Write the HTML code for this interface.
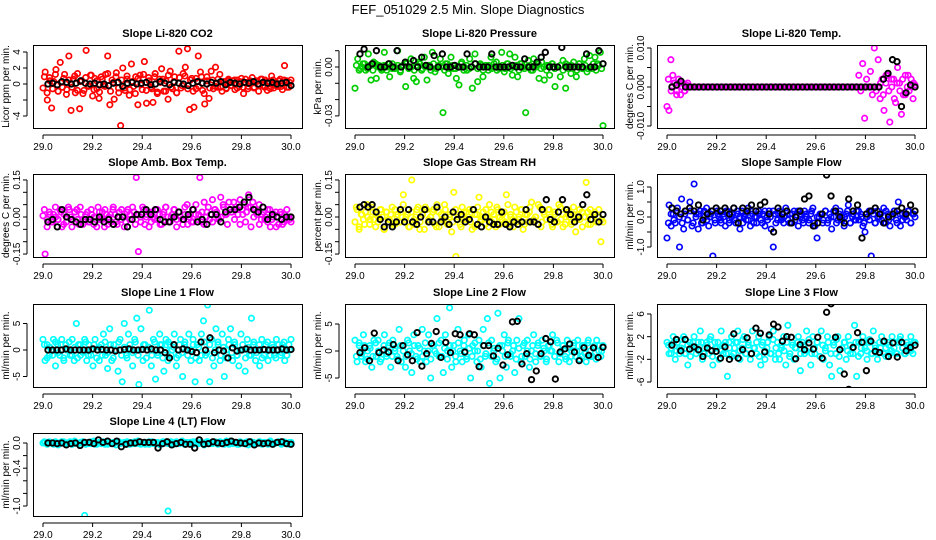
<!DOCTYPE html>
<html><head><meta charset="utf-8"><style>
html,body{margin:0;padding:0;background:#fff;}
svg{display:block;font-family:"Liberation Sans",sans-serif;}
</style></head><body>
<svg id="chart" width="936" height="540" viewBox="0 0 936 540" xmlns="http://www.w3.org/2000/svg">
<rect width="936" height="540" fill="#fff"/>
<text x="468" y="14" text-anchor="middle" font-size="13">FEF_051029  2.5 Min. Slope Diagnostics</text>
</svg>
<script>
const xTicks=[29.0,29.2,29.4,29.6,29.8,30.0];
const xTickLabels=["29.0","29.2","29.4","29.6","29.8","30.0"];
// CO2 (ppm/min)
const co2Vals=[-0.5,1.5,-2,0.8,-3,0.3,1.8,-0.9,2.7,-0.4,1.2,-0.7,3.5,-3.3,0.6,-1.1,1.3,-3.1,0.4,-0.8,4.2,-0.3,1.1,-1.5,0.7,-0.6,-1.8,0.9,-0.2,1.2,3.5,-2.6,0.5,-1.9,1.4,-0.5,-5.2,2,-0.8,0.6,-1.4,2.5,-0.3,0.9,-2.6,1.1,-0.7,2.8,-2.4,0.8,-0.4,-2.3,1.3,-1.2,0.6,1.9,-0.9,0.4,-1.9,1.6,-0.6,0.9,-1.1,4.1,-0.5,1.3,2.1,4.4,-3.2,0.7,-2.9,-0.6,3.5,1.5,-0.8,-2.5,0.9,-1.8,1.6,-0.6,2.1,-0.4,1.2,-0.9,0.3,-0.5,0.6,-0.2,0.4,-0.7,0.5,-0.3,0.7,-1.2,0.2,-0.6,0.4,0.8,-0.4,0.3,-0.9,0.6,-0.2,0.5,-0.8,0.3,1,-0.5,0.2,-0.3,0.6,-0.7,2.3,0.4,-0.4,0.5];
const co2Band=[0.9,-1.1,0.4,-0.6,1.2,-0.9,0.2,0.7,-1.3,0.5,-0.4,1,-0.8,0.3,-1.2,0.8,-0.2,1.1,-0.7,0.4,-1,0.6,-0.3,1.3,-0.9,0.2,0.9,-1.1,0.5,-0.5,1,-0.7,0.3,-1.2,0.7,-0.1,1.2,-0.8,0.4,-0.6,0.9,-1,0.2,0.6,-0.9,1.1,-0.4,0.3,-1.1,0.8,-0.2,1,-0.6,0.5,-0.9,0.7,-0.3,0.9,-1.2,0.4,-0.5,0.5,-0.3,0.6,-0.4,0.2,-0.6,0.4,-0.2,0.5,-0.5,0.3,-0.4,0.6,-0.3,0.2,-0.5,0.4,-0.2,0.6,-0.4,0.3,-0.6,0.5,-0.2,0.4,-0.3,0.5,-0.4,0.2];
const co2Blk=[0,0.1,-0.1,0.3,0.2,0,0.1,0.4,0.1,0,0.1,-0.1,0,-0.2,0.1,0.2,-0.3,0.1,0.2,0,0.1,0.2,-0.1,0,0.3,0.1,-0.1,0.2,0.1,0,-0.2,0.1,0.3,0.1,0,0.2,0.1,0.3,-0.1,0.2,0.1,0,0.2,0.1,0.3,0,0.2,0.1,0.2,0,0.1,0.2,-0.2];
const co2Ticks=[-4,-2,0,2,4];const co2Labels=["-4","","0","2","4"];
// Pressure (x0.001 kPa/min)
const presVals=[-13,5,-1,2,-2,8,-8,3,-7,1,-2,9,0,-6,2,-1,10,-3,1,-12,0,5,-7,-9,3,-2,6,-8,1,9,-3,0,5,-28,2,-4,6,-1,-7,-11,3,0,-2,5,-13,8,-9,2,-6,1,-2,6,0,3,-1,9,-3,2,8,-5,6,-6,2,0,-28,4,-2,5,0,-7,3,-8,1,-5,2,-12,0,-6,4,-13,1,-4,3,-6,2,0,5,-3,7,-1,6,2,9,-36];
const presBand=[1,-2,0,2,-1,1,-2,2,0,-1,1,-2,2,-1,0,1,-2,1,2,-1,0,-2,1,2,-1,0,1,-2,2,-1,1,0,-2,2,-1,1,-1,0,2,-2,1,-1,0,2,-1,1,-2,0,1,-1,2,-2,0,1,-1,2,-1,0,1,-2,2,-1,0,1,-2,1,2,-1,0,-2,1,2,-1,0,1,-2,2,-1,1,0,-2,2,-1,1,-1,0,2,-2,1,-1];
const presBlk=[8,11,0,2,10,0,0,2,0,10,0,3,0,4,0,6,1,0,7,0,8,0,0,1,0,0,8,0,2,0,0,0,8,0,0,0,0,1,0,0,5,0,0,3,6,9,0,0,0,12,0,0,0,0,0,8,0,0,10,2];
const presTicks=[10,0,-10,-20,-30];const presLabels=["","0.00","","","-0.03"];
// Li-820 temp (x0.001 C/min)
const tempVals=[-5,-6,7,3,1,-1,2,-2,1,-1,0.5,0,0,0,0,0,0,0,0,0,0,0,0,0,0,0,0,0,0,0,0,0,0,0,0,0,0,0,0,0,0,0,0,0,0,0,0,0,0,0,0,0,0,0,0,0,0,0,0,0,0,0,0,0,0,0,0,0,0,0,0,0,0,0,0,0,0,0,0,0,0,0,0,0,0,0,0,0,0,0,0,0,0,0,0,0,0,0,0,3,-1,6,-8,2,0,4,-2,10,-1,7,-3,2,-6,1,3,-9,0,2,-4,5,1,-7,-2,3,0,-1,2,-3,0.5];
const tempBand=[2,-1,1,-2,1,0,-1,1,0,0,0,0,0,0,0,0,0,0,0,0,0,0,0,0,0,0,0,0,0,0,0,0,0,0,0,0,0,0,0,0,0,0,0,0,0,0,0,0,0,0,0,0,0,0,0,0,0,0,0,0,0,0,0,0,0,0,0,0,0,0,0,0,0,0,0,0,0,1,-2,3,-1,2,-3,1,-1,2,-2,3,0,1];
const tempBlk=[0,0.5,1.5,0,0,0,0,0,0,0,0,0,0,0,0,0,0,0,0,0,0,0,0,0,0,0,0,0,0,0,0,0,0,0,0,0,0,0,0,0,0,0,0,0,0,0,0,2,3.5,7,6.5,-5,-1.5,0.5,0];
const tempTicks=[10,5,0,-5,-10];const tempLabels=["0.010","","0.000","","-0.010"];
// Amb box temp (x0.01)
const ambVals=[0.5,-15,-1,2,-2,1,0,-1,3,-4,1,-2,4,0,-1,2,3,-3,1,-1,0,2,-2,1,-3,0,4,-1,2,-4,1,0,-2,3,1,-3,2,-1,0,-2,3,1,-1,2,16,-14,0,4,-3,1,2,-2,0,3,-1,1,-3,2,4,0,-2,1,3,-1,2,0,-3,1,5,0,-2,3,1,-1,16,2,-3,0,4,1,-2,3,2,-1,0,5,1,-3,3,2,6,4,1,7,3,5,2,9,4,6,3,1,5,-1,2,0,-2,3,-1,1,-4,0,2,-3,1,-1,0,-2];
const ambBand=[3,-4,1,-2,4,-1,2,-3,0,3,-4,2,-1,4,-3,1,-2,3,0,-4,2,-1,3,-3,1,4,-2,0,3,-4,2,-1,4,-3,1,-2,3,0,-4,2,-1,3,-3,1,4,-2,0,3,-4,2,-1,4,-3,1,-2,5,1,-2,6,2,-1,7,3,0,8,4,1,6,2,-1,3,-3,1,-2,4,-4,0,2,-3,1,-1,3,-4,0,2,-3,1,-2,3,-1];
const ambBlk=[-2,-1,-4,3,0,-1,-2,-3,-1,-1,-2,0,-2,-1,-3,0,0,-4,-1,1,1,3,1,3,-1,-2,-2,0,2,-1,1,3,-2,-1,-3,1,1,-2,2,3,3,4,6,8,3,2,4,-1,1,0,-1,0,0];
const ambTicks=[15,10,5,0,-5,-10,-15];const ambLabels=["0.15","","","0.00","","","-0.15"];
// Gas stream RH (x0.01)
const rhVals=[-2,3,-4,1,-1,2,0,-3,4,-1,1,-2,3,0,-5,2,-1,1,-3,3,0,-2,2,9,-1,1,-4,15,-3,0,4,-2,1,-5,3,-1,0,2,-3,5,-4,1,-1,3,-2,0,-6,10,-16,1,-3,4,-1,2,0,-2,3,-4,1,8,-1,2,-3,0,5,-2,1,-4,3,0,-1,2,9,-3,1,-1,4,-2,0,3,-5,1,-2,2,6,-1,0,-3,4,-2,1,-1,3,0,-4,2,-2,5,-1,1,-3,3,0,-2,4,-6,1,-1,2,0,14,-3,3,-1,2,-2,0,-10,-2];
const rhBand=[4,-5,1,-3,5,-1,2,-4,0,3,-5,2,-1,4,-3,1,-2,5,0,-4,2,-1,3,-5,1,4,-2,0,3,-4,2,-1,5,-3,1,-2,3,0,-4,2,-1,3,-5,1,4,-2,0,3,-4,2,-1,4,-3,1,-2,5,0,-4,2,-1,3,-3,1,4,-2,0,5,-4,2,-1,3,-3,1,-2,4,-4,0,2,-3,1,-1,3,-4,0,2,-3,1,-2,3,-1];
const rhBlk=[4,5,4,5,2,-1,-4,-2,-4,-2,3,-2,3,-2,-3,0,3,-2,-2,4,-2,0,-3,2,-1,1,-2,-1,3,-3,-4,0,-2,-3,-3,2,-3,-4,-2,-3,-2,3,-2,-2,-3,3,7,-1,-2,2,7,3,1,-2,0,5,9,-1,1,-2,1];
// Sample flow (x0.1)
const sampVals=[-7,4,-3,1,-2,3,-10,6,-4,2,-1,5,-3,11,1,-4,2,-2,0,3,-3,1,-13,-1,2,0,-2,1,-3,2,-1,0,3,-2,1,-4,2,0,-1,3,-3,1,0,-2,2,-1,1,-3,0,2,-4,-10,1,-1,2,0,-2,3,-1,1,-2,2,0,-3,1,-1,2,0,-2,1,3,-3,-7,0,1,-1,2,-2,1,-4,0,3,-1,2,0,-3,1,4,-2,0,-1,2,-1,1,-3,-5,0,2,-13,1,-2,2,0,-1,3,-2,1,-3,0,2,-1,5,-3,1,0,-1,2,-2,1,0];
const sampBand=[-2,1,-1,2,0,-2,1,-1,2,-2,0,1,-2,2,-1,0,2,-2,1,-1,0,2,-2,1,-1,2,0,-2,1,-1,2,-2,0,1,-2,2,-1,0,2,-2,1,-1,0,2,-2,1,-1,2,0,-2,1,-1,2,-2,0,1,-2,2,-1,0,2,-2,1,-1,0,2,-2,1,-1,2,0,-2,1,-1,2,-2,0,1,-2,2,-1,0,2,-2,1,-1,0,2,-2,1];
const sampBlk=[3,2,1,2,3,2,4,-1,1,2,3,2,3,1,3,-2,3,2,4,2,4,5,1,-5,3,1,2,-2,0,2,6,7,-3,-2,1,14,7,2,0,-2,6,2,4,-7,1,2,3,1,-2,0,1,2,3,1,4,2];
const sampTicks=[10,5,0,-5,-10];const sampLabels=["1.0","","0.0","","-1.0"];
// Line 1 flow
const l1Vals=[2,-2,1,-1,0,2,-3,1,-1,2,-2,1,0,-1,2,-2,5,1,-1,0,2,-2,1,-1,-3,2,0,-2,1,3,-1,-3.5,4,-2,1,0,-4,2,-6,5,-1,3,0,-3,2,6,-6.5,4,-2,1,0,7.5,-3,2,-5.5,-1,3,1,-4,2,-2,1,0,3,-3,-1,2,-5,1,0,3,-2,2,-6,1,-2,3,5.5,-1,8.5,-6,2,-3,4,1,-2,3,-5,0,2,4,-2,1,-1,-3,3,0,-4,2,-1,6,1,-2,0,-3,2,-1,1,-2,0,1,-1,2,0,-1,1,-2,0,1,2];
const l1Band=[1,-1.5,0.5,-1,1.5,-0.5,1,-1.5,0,1.5,-1,0.5,-1.5,1,-0.5,1.5,-1,0,1,-1.5,0.5,-1,1.5,-0.5,1,-1.5,0,1.5,-1,0.5,-1.5,1,-0.5,1.5,-1,0,1,-1.5,0.5,-1,1.5,-0.5,1,-1.5,0,1.5,-1,0.5,-1.5,1,-0.5,1.5,-1,0,1,-1.5,0.5,-1,1.5,-0.5,1,-1.5,0,1.5,-1,0.5,-1.5,1,-0.5,1.5,-1,0,1,-1.5,0.5,-1,1.5,-0.5,1,-1.5,0,1.5,-1,0.5,-1.5,1,-0.5,1.5,-1,0];
const l1Blk=[0,0,0,0,0.2,0,0,0,0,0,0.2,0,0.1,0,0,-0.2,0,0.1,0.2,0,0,0.1,0,0.2,0,0,-0.5,-1.5,1,0,0.2,0,-0.3,-0.5,1.5,0,2.3,-0.5,0,-0.2,-1.5,0.4,-0.2,0,0.2,0,0,0,0.1,0,0,0,0.2,0,0.1];
const l1Ticks=[5,0,-5];const l1Labels=["5","0","-5"];
// Line 2 flow
const l2Vals=[2,-2,1,-1,3,-2,0,1,-3,2,-1,2,-2,0,3,-1,1,-3,2,0,-1,4,-2,1,-3,2,0,-4,3,-1,1,-2,4,0,-2,3,-5,1,0,6,-1,2,-4,3,0,8,-3,1,-2,4,0,-2,2,-1,3,-5,1,0,-2,2,-3,4,-1,6,-6,2,0,-2,7,-5,1,3,-3,2,-1,0,-4,2,6,-2,1,-1,2,-3,0,3,-2,1,-1,2,0,-2,1,0,3,-1,2,-2,0,1,-1,2,-2,0,1,-1,2,0,-1,1,-2,2,0,-1,1,2,0,-1,1];
const l2Band=[-1,1.5,-0.5,1,-1.5,0.5,-1,1.5,0,-1.5,1,-0.5,1.5,-1,0.5,-1.5,1,0,-1,1.5,-0.5,1,-1.5,0.5,-1,1.5,0,-1.5,1,-0.5,1.5,-1,0.5,-1.5,1,0,-1,1.5,-0.5,1,-1.5,0.5,-1,1.5,0,-1.5,1,-0.5,1.5,-1,0.5,-1.5,1,0,-1,1.5,-0.5,1,-1.5,0.5,-1,1.5,0,-1.5,1,-0.5,1.5,-1,0.5,-1.5,1,0,-1,1.5,-0.5,1,-1.5,0.5,-1,1.5,0,-1.5,1,-0.5,1.5,-1,0.5,-1.5,1,0];
const l2Blk=[-0.3,0.6,-1.8,3.3,-0.3,0.2,-0.2,1.2,-1.8,1,-0.7,-1.8,3.4,-2.8,-0.5,1.4,3.6,-1.2,1.6,-0.3,3.2,3,-0.2,3.2,3,-2.9,1,1,-0.9,0.5,-2.6,-0.7,5.4,5.5,-2.4,-0.5,-5.3,-3.7,-0.5,2.3,1.7,-5.2,-0.2,0.4,1.3,-0.2,-1.8,0.6,-0.8,0.6,-1.2,0.7];
// Line 3 flow
const l3Vals=[1,-1,0,2,-2,1,-1,0,2,-1,-3,1,0,2,-1,1,3,-2,0,1,-1,2,-3,1,0,-2,3,-1,1,-5,0,2,-1,1,3,-2,0,2,-1,1,-2,3,0,-1,2,-3,1,-2,0,2,-1,3,-2,1,-2,0,2,-3,4,-1,1,-2,0,2,-4,1,-1,3,0,-3,2,-1,1,-8,3,-2,0,2,-3,-5,1,-1,2,-4,0,1,-2,2,-1,0,4,-5,1,-1,2,0,-2,1,-1,3,0,-2,1,2,-1,0,1,-1,2,0,-1,1,2,0,-1,1,0,2,-1,1];
const l3Band=[0.5,-1,1,-0.5,0,1.5,-1,0.5,-1.5,1,0,-0.5,1,-1,0.5,1.5,-1.5,0,1,-0.5,0.5,-1,1,-1.5,0,1,-0.5,1.5,-1,0.5,-1,0,1,-1.5,0.5,-0.5,1,-1,1.5,0,-1,0.5,-0.5,1,-1.5,0.5,0,1,-1,0.5,-0.5,1.5,-1,0,1,-1.5,0.5,-0.5,1,-1,0.5,1.5,-1.5,0,1,-0.5,0.5,-1,1,-1.5,0,1,-0.5,1.5,-1,0.5,-1,0,1,-1.5,0.5,-0.5,1,-1,1.5,0,-1,0.5,-0.5,1];
const l3Blk=[0.5,1.5,-0.5,1.5,-0.2,0.2,-0.3,-1.5,0,-0.5,-0.6,-1.8,0.2,-2,2.5,-1.8,-0.3,1.8,-1,3.5,2.6,-0.7,2.3,4.2,3.7,1.2,2,1.9,-1.9,0.6,-0.3,0.9,-0.2,1.9,-1.8,6.3,7.8,1.9,-0.3,-4.6,-7.3,0.1,2.7,1,-4,1.2,-0.6,-0.8,1.2,-1.5,0.9,-1.6,1,-0.5,0.1,0.5];
const l3Ticks=[6,2,-2,-6];const l3Labels=["6","2","-2","-6"];
// Line 4 flow (x0.01)
const l4Vals=[0,1,-1,2,0,-2,1,0,-1,2,1,-1,0,2,-2,1,0,-1,1,2,-115,0,-1,2,1,-2,0,1,-1,2,0,-2,1,0,-1,1,2,-1,0,1,-2,0,1,-1,2,0,-1,1,0,-2,1,2,0,-1,1,0,-2,1,0,2,-108,-1,1,0,2,-1,0,1,-2,1,0,-1,2,1,-1,0,1,-2,0,2,1,-1,0,1,-1,2,0,-2,1,0,3,-1,1,0,-2,1,0,-1,2,0,-122,1,-1,0,2,-1,1,0,-2,1,0,-1,1,2,0,-1,1,0,-2,1];
const l4Band=[2,-2,1,-1,2,-3,0,2,-1,1,-2,3,-1,0,2,-2,1,-1,3,-2,0,1,-2,2,-1,1,-3,2,0,-1,2,-2,1,-1,3,-2,0,1,-2,2,-1,1,-3,2,0,-1,2,-2,1,-1,3,-2,0,1,-2,2,-1,1,-3,2,0,-1,2,-2,1,-1,3,-2,0,1,-2,2,-1,1,-3,2,0,-1,2,-2,1,-1,3,-2,0,1,-2,2,-1,1];
const l4Blk=[0,0,-1,0,-3,-1,0,-4,1,1,-1,5,1,3,-1,3,-6,-2,0,0,2,1,1,1,-8,-1,2,-3,-1,1,-2,-2,-8,5,-2,-1,2,0,-1,1,3,1,0,-1,2,-3,0,-1,0,-2,1,2,-1,-2];
const l4Ticks=[0,-20,-40,-60,-80,-100];const l4Labels=["0.0","","-0.4","","","-1.0"];

const NS="http://www.w3.org/2000/svg";
const svg=document.getElementById('chart');
function mk(tag,attrs,parent){const e=document.createElementNS(NS,tag);for(const k in attrs)e.setAttribute(k,attrs[k]);(parent||svg).appendChild(e);return e;}

const panels=[
 {id:'co2',title:'Slope Li-820 CO2',yl:'Licor ppm per min.',c:0,r:0,y0:84,k:8,vals:co2Vals,band:co2Band,blk:co2Blk,col:'#ff0000',ticks:co2Ticks,labs:co2Labels},
 {id:'pressure',title:'Slope Li-820 Pressure',yl:'kPa per min.',c:1,r:0,y0:67,k:1.63,vals:presVals,band:presBand,blk:presBlk,col:'#00cd00',ticks:presTicks,labs:presLabels},
 {id:'li820-temp',title:'Slope Li-820 Temp.',yl:'degrees C per min.',c:2,r:0,y0:87,k:3.9,vals:tempVals,band:tempBand,blk:tempBlk,col:'#ff00ff',ticks:tempTicks,labs:tempLabels},
 {id:'amb-box-temp',title:'Slope Amb. Box Temp.',yl:'degrees C per min.',c:0,r:1,y0:217,k:2.47,vals:ambVals,band:ambBand,blk:ambBlk,col:'#ff00ff',ticks:ambTicks,labs:ambLabels},
 {id:'gas-stream-rh',title:'Slope Gas Stream RH',yl:'percent per min.',c:1,r:1,y0:217,k:2.47,vals:rhVals,band:rhBand,blk:rhBlk,col:'#ffff00',ticks:ambTicks,labs:ambLabels},
 {id:'sample-flow',title:'Slope Sample Flow',yl:'ml/min per min.',c:2,r:1,y0:217,k:3.0,vals:sampVals,band:sampBand,blk:sampBlk,col:'#0000ff',ticks:sampTicks,labs:sampLabels},
 {id:'line1-flow',title:'Slope Line 1 Flow',yl:'ml/min per min.',c:0,r:2,y0:350,k:5.3,vals:l1Vals,band:l1Band,blk:l1Blk,col:'#00ffff',ticks:l1Ticks,labs:l1Labels},
 {id:'line2-flow',title:'Slope Line 2 Flow',yl:'ml/min per min.',c:1,r:2,y0:351,k:5.4,vals:l2Vals,band:l2Band,blk:l2Blk,col:'#00ffff',ticks:l1Ticks,labs:l1Labels},
 {id:'line3-flow',title:'Slope Line 3 Flow',yl:'ml/min per min.',c:2,r:2,y0:348,k:5.67,vals:l3Vals,band:l3Band,blk:l3Blk,col:'#00ffff',ticks:l3Ticks,labs:l3Labels},
 {id:'line4-flow',title:'Slope Line 4 (LT) Flow',yl:'ml/min per min.',c:0,r:3,y0:443,k:0.63,vals:l4Vals,band:l4Band,blk:l4Blk,col:'#00ffff',ticks:l4Ticks,labs:l4Labels}
];
const boxL=[33,345,657],x29=[43,355,667],boxT=[45,174,304,433];
const BW=269,BH=83,XW=248;

panels.forEach(p=>{
 const g=mk('g',{});
 
 
 const L=boxL[p.c],T=boxT[p.r];
 const xs=v=>x29[p.c]+(v-29)*XW;
 const ys=v=>p.y0-v*p.k;
 const t=mk('text',{x:L+BW/2,y:T-8,'text-anchor':'middle','font-size':'11','font-weight':'bold'},g);
 t.textContent=p.title;
 
 
 const cp=mk('clipPath',{id:'clip-'+p.id},g);mk('rect',{x:L,y:T,width:BW,height:BH},cp);
 const pts=mk('g',{'clip-path':'url(#clip-'+p.id+')',fill:'none','stroke-width':'1.7'},g);
 
 
 const nb=p.band.length;
 p.band.forEach((v,i)=>{
  const c=mk('circle',{cx:xs(29+(i+0.5)/nb),cy:ys(v),r:2.7,stroke:p.col},pts);
  
  
 });
 const n=p.vals.length;
 p.vals.forEach((v,i)=>{
  const c=mk('circle',{cx:xs(29+i/(n-1)),cy:ys(v),r:2.7,stroke:p.col},pts);
  
  
 });
 const m=p.blk.length;
 p.blk.forEach((v,i)=>{
  const c=mk('circle',{cx:xs(29.02+0.98*i/(m-1)),cy:ys(v),r:2.7,stroke:'#000','stroke-width':'1.9'},pts);
  
  
 });
 const box=mk('rect',{x:L+0.5,y:T+0.5,width:BW,height:BH,fill:'none',stroke:'#000','stroke-width':'1'},g);
 
 
 const xa=mk('g',{},g);
 
 
 const yb=T+BH+1;
 mk('line',{x1:xs(29),x2:xs(30),y1:yb+6,y2:yb+6,stroke:'#000'},xa);
 xTicks.forEach((v,i)=>{
  mk('line',{x1:xs(v),x2:xs(v),y1:yb+6,y2:yb+10,stroke:'#000'},xa);
  const tl=mk('text',{x:xs(v),y:yb+21,'text-anchor':'middle','font-size':'10'},xa);
  tl.textContent=xTickLabels[i];
  
  
 });
 const ya=mk('g',{},g);
 
 
 const ax=L-6;
 mk('line',{x1:ax,x2:ax,y1:ys(p.ticks[0]),y2:ys(p.ticks[p.ticks.length-1]),stroke:'#000'},ya);
 p.ticks.forEach((v,i)=>{
  mk('line',{x1:ax-4,x2:ax,y1:ys(v),y2:ys(v),stroke:'#000'},ya);
  if(p.labs[i]){
   const tl=mk('text',{x:0,y:0,'text-anchor':'middle','font-size':'10',transform:'translate('+(ax-7)+','+ys(v)+') rotate(-90)'},ya);
   tl.textContent=p.labs[i];
   
   
  }
 });
 const yt=mk('text',{x:0,y:0,'text-anchor':'middle','font-size':'10',transform:'translate('+(L-24)+','+(T+BH/2)+') rotate(-90)'},g);
 yt.textContent=p.yl;
 
 
});
</script>
</body></html>
